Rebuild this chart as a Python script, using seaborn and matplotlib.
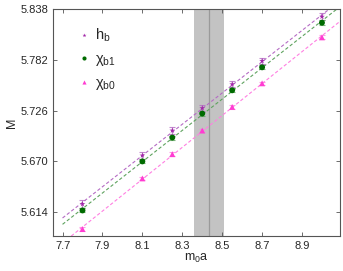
import numpy as np
import pandas as pd
import matplotlib
matplotlib.use("Agg")
import matplotlib.pyplot as plt
import seaborn as sns

# bare quark mass values
m0a = [7.8, 8.1, 8.25, 8.4, 8.55, 8.7, 9.0]

hb = [5.6229, 5.6765, 5.7041, 5.7288, 5.7552, 5.7810, 5.8299]
hb_err = [0.0045, 0.0035, 0.0035, 0.0035, 0.0035, 0.0035, 0.0040]
chib1 = [5.6158, 5.6700, 5.6964, 5.7229, 5.7486, 5.7740, 5.8233]
chib1_err = [0.0022, 0.0022, 0.0022, 0.0022, 0.0022, 0.0022, 0.0025]
chib0 = [5.5952, 5.6512, 5.6780, 5.7041, 5.7302, 5.7563, 5.8071]
chib0_err = [0.0020, 0.0020, 0.0020, 0.0020, 0.0020, 0.0020, 0.0022]

band_lo, band_mid, band_hi = 8.36, 8.434, 8.51
yticks = [5.614, 5.670, 5.726, 5.782, 5.838]
xticks = [7.7, 7.9, 8.1, 8.3, 8.5, 8.7, 8.9]

series = [
    ("$\\mathregular{h_b}$", hb, hb_err, "#A226A8", "#B56CC4", "*", 22),
    ("$\\mathregular{\\chi_{b1}}$", chib1, chib1_err, "#006B00", "#5FA35F", "o", 14),
    ("$\\mathregular{\\chi_{b0}}$", chib0, chib0_err, "#FF3CD2", "#FF7FE2", "^", 16),
]

sns.set_style("ticks")
plt.rcParams['font.family'] = ['Liberation Sans', 'DejaVu Sans']
plt.rcParams['mathtext.fontset'] = 'custom'
plt.rcParams['mathtext.rm'] = 'Liberation Sans'
plt.rcParams['mathtext.it'] = 'Liberation Sans'

fig = plt.figure(figsize=(3.43, 2.71), dpi=100)
ax = fig.add_axes([0.155, 0.129, 0.836, 0.838])

ax.axvspan(band_lo, band_hi, color="#C3C3C3", lw=0, zorder=0)
ax.axvline(band_mid, color="#9A9A9A", lw=0.9, zorder=1)

xfit = np.array([7.7, 9.1])
frames = []
for name, vals, errs, col, lcol, mk, sz in series:
    p = np.polyfit(m0a, vals, 1)
    fit = pd.DataFrame({"x": xfit, "y": np.polyval(p, xfit)})
    sns.lineplot(data=fit, x="x", y="y", ax=ax, color=lcol, lw=0.8,
                 linestyle=(0, (3, 2)), zorder=2)
    ax.errorbar(m0a, vals, yerr=errs, fmt="none", ecolor=lcol, elinewidth=0.8,
                capsize=2.5, capthick=0.8, alpha=0.8, zorder=3)
    frames.append(pd.DataFrame({"x": m0a, "y": vals, "s": name}))

df = pd.concat(frames)
palette = {s[0]: s[3] for s in series}
markers = {s[0]: s[5] for s in series}
sns.scatterplot(data=df, x="x", y="y", hue="s", style="s", palette=palette,
                markers=markers, s=18, edgecolor="none", ax=ax, zorder=4)

ax.set_xlim(7.653, 9.09)
ax.set_ylim(5.5875, 5.8385)
ax.set_xticks(xticks)
ax.set_yticks(yticks)
ax.set_xticklabels([f"{v:.1f}" for v in xticks])
ax.set_yticklabels([f"{v:.3f}" for v in yticks])
ax.tick_params(direction="in", top=True, right=True, labelsize=8, length=3,
               width=0.6, color="#555555")
for sp in ax.spines.values():
    sp.set_color("#555555")
    sp.set_linewidth(0.8)

ax.set_xlabel("$\\mathregular{m_0a}$", fontsize=9, labelpad=1)
ax.set_ylabel("M", fontsize=9, labelpad=2)

h, l = ax.get_legend_handles_labels()
leg = ax.legend(h, l, loc="upper left", bbox_to_anchor=(0.04, 0.98), frameon=False,
                fontsize=10.5, markerscale=0.7, handletextpad=0.3, labelspacing=0.55,
                handlelength=0.9)

fig.savefig("out.png", dpi=100)
